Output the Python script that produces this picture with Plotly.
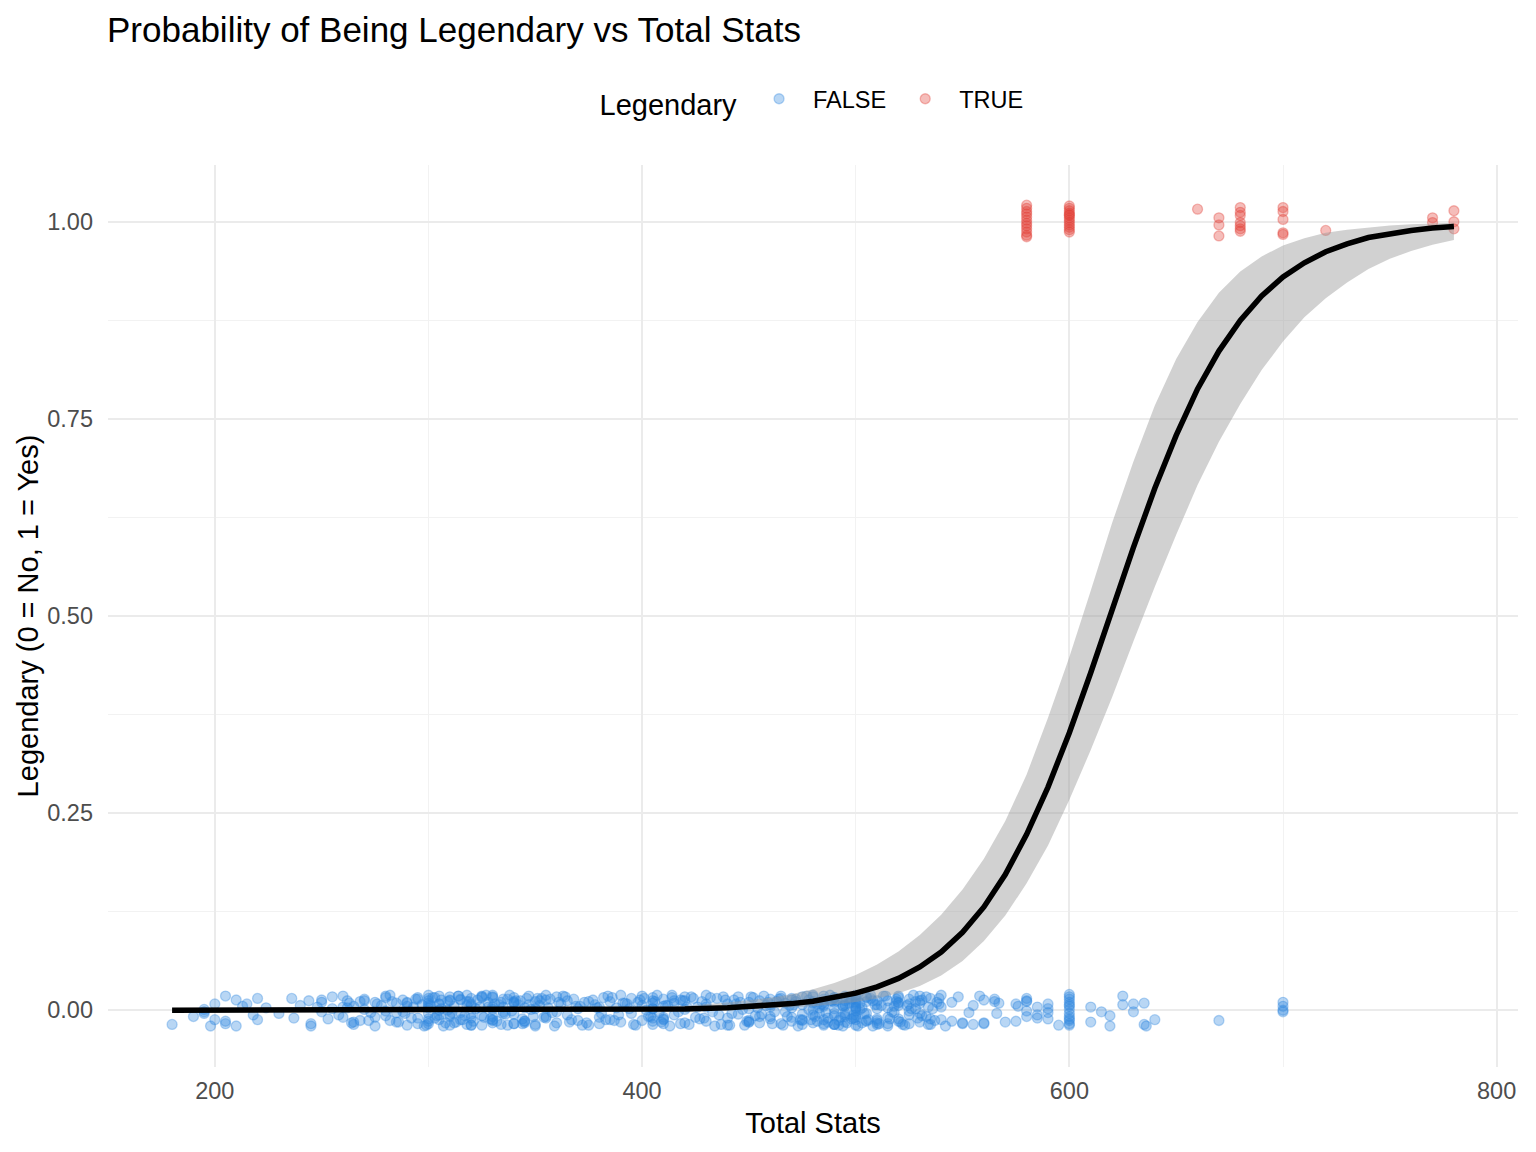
import plotly.graph_objects as go

# jittered observations: total stats vs legendary flag (0/1 plus vertical jitter)
false_total = [
    180, 190, 195, 195, 195, 198, 200, 200, 205, 205,
    205, 210, 210, 213, 215, 218, 220, 220, 224, 230,
    236, 237, 240, 244, 245, 245, 248, 250, 250, 250,
    253, 255, 260, 260, 262, 263, 264, 265, 268, 270,
    270, 273, 275, 275, 278, 280, 280, 283, 285, 288,
    288, 290, 290, 293, 295, 295, 297, 300, 300, 300,
    300, 300, 303, 305, 305, 305, 307, 309, 310, 310,
    312, 313, 315, 315, 318, 318, 320, 320, 320, 322,
    325, 325, 328, 330, 330, 330, 330, 333, 335, 335,
    337, 340, 340, 340, 343, 345, 345, 347, 349, 350,
    350, 352, 353, 355, 355, 358, 360, 360, 362, 365,
    365, 368, 370, 370, 373, 375, 378, 380, 380, 380,
    382, 385, 385, 388, 390, 390, 393, 395, 395, 398,
    400, 400, 400, 403, 405, 405, 405, 405, 408, 410,
    410, 410, 413, 415, 415, 418, 420, 420, 423, 425,
    428, 430, 430, 430, 433, 435, 437, 440, 440, 443,
    445, 445, 448, 450, 450, 450, 452, 453, 455, 455,
    458, 460, 460, 462, 465, 465, 467, 468, 470, 470,
    470, 472, 473, 475, 475, 475, 478, 479, 480, 480,
    480, 482, 483, 485, 485, 485, 487, 488, 490, 490,
    490, 490, 490, 492, 494, 495, 495, 495, 497, 498,
    500, 500, 500, 500, 500, 500, 500, 502, 503, 505,
    505, 507, 508, 510, 510, 510, 513, 515, 515, 515,
    518, 518, 520, 520, 520, 523, 525, 525, 525, 528,
    530, 530, 530, 533, 534, 535, 535, 538, 540, 540,
    545, 548, 550, 553, 555, 558, 560, 565, 570, 575,
    580, 580, 585, 585, 590, 590, 590, 595, 600, 600,
    600, 600, 600, 600, 600, 600, 600, 600, 555, 560,
    560, 566, 567, 576, 580, 580, 610, 610, 615, 619,
    619, 625, 625, 630, 630, 635, 635, 636, 640, 670,
    700, 700, 700, 700, 300, 300, 305, 310, 318, 320,
    325, 330, 330, 340, 405, 405, 410, 414, 420, 440,
    460, 470, 480, 480, 485, 485, 490, 490, 494, 495,
    500, 500, 500, 505, 508, 510, 515, 520, 520, 525,
    530, 530, 535, 540,
    255, 258, 262, 265, 268, 272, 276, 280, 282, 286,
    290, 292, 294, 298, 300, 302, 304, 306, 308, 310,
    311, 314, 316, 318, 320, 323, 326, 328, 330, 332,
    334, 336, 338, 340, 342, 344, 346, 348, 350, 352,
    355, 357, 360, 363, 366, 369, 372, 375, 379, 383,
    386, 389, 392, 396, 399, 402, 405, 407, 410, 412,
    415, 418, 421, 424, 427, 430, 434, 438, 442, 446,
    450, 454, 457, 460, 463, 466, 469, 472, 475, 478,
    480, 482, 484, 486, 488, 490, 491, 493, 495, 496,
    498, 499, 500, 501, 503, 505, 506, 509, 511, 514,
    517, 519, 521, 524, 527, 529, 531, 534, 536, 539,
    300, 305, 310, 315, 320, 325, 330, 335, 340, 345,
    480, 485, 490, 495, 500, 505, 510, 515, 520, 525,
    405, 410, 420, 450, 460, 470, 475, 485, 495, 500,
    282, 285, 289, 295, 299, 301, 303, 306, 309, 312,
    314, 317, 319, 321, 324, 327, 329, 331, 334, 337,
    339, 341, 344, 347, 351, 354, 356, 359, 361, 364,
    367, 371, 374, 377, 381, 384, 387, 391, 394, 397,
    401, 404, 406, 409, 411, 414, 417, 419, 422, 426,
    429, 432, 436, 439, 441, 444, 447, 449, 451, 456,
    459, 461, 464, 467, 471, 474, 477, 481, 483, 487,
    489, 492, 494, 497, 499, 502, 504, 507, 510, 512,
    516, 519, 522, 526, 528, 531, 533, 537, 539, 542,
    260, 265, 270, 275, 280, 285, 290, 295, 300, 305,
    310, 315, 320, 325, 330, 335, 340, 345, 350, 355,
    455, 465, 475, 485, 490, 495, 500, 505, 510, 520,
    600, 600, 600, 590, 585, 580, 575, 565, 550, 545,
]
false_jitter = [
    -0.018, -0.008, -0.002, 0.001, -0.004, -0.020, 0.008, -0.012, 0.018, -0.017,
    -0.014, 0.013, -0.020, 0.005, 0.008, -0.006, 0.015, -0.012, 0.003, -0.004,
    0.015, -0.010, 0.006, 0.012, -0.020, -0.017, 0.004, 0.013, -0.002, 0.010,
    -0.011, 0.002, 0.018, -0.009, 0.012, 0.009, -0.016, 0.005, -0.013, 0.001,
    0.014, -0.003, -0.020, 0.010, 0.006, 0.016, -0.007, 0.011, -0.015, 0.013,
    -0.002, 0.009, -0.019, 0.004, 0.014, -0.010, 0.007, 0.019, -0.004, 0.012,
    -0.017, 0.003, 0.016, -0.012, 0.008, 0.000, -0.020, 0.011, 0.017, -0.008,
    0.005, -0.015, 0.013, -0.003, 0.019, -0.018, 0.008, -0.010, 0.015, 0.002,
    -0.007, 0.018, 0.010, -0.016, 0.004, 0.019, -0.012, 0.007, -0.002, 0.014,
    -0.019, 0.016, -0.005, 0.009, 0.012, -0.014, 0.003, 0.018, -0.008, 0.011,
    -0.018, 0.006, 0.015, -0.010, 0.013, -0.003, 0.017, -0.016, 0.008, 0.012,
    -0.006, 0.014, 0.002, -0.013, 0.010, -0.019, 0.007, -0.017, 0.004, -0.009,
    0.016, -0.012, 0.011, 0.003, 0.019, -0.015, 0.008, -0.004, 0.015, 0.010,
    -0.013, 0.006, 0.018, -0.008, 0.012, -0.018, 0.002, 0.016, -0.003, 0.014,
    -0.011, 0.005, -0.020, 0.009, -0.006, 0.013, -0.016, 0.001, 0.017, -0.009,
    0.011, 0.019, -0.014, 0.004, -0.002, 0.015, -0.018, 0.008, -0.010, 0.013,
    -0.005, 0.017, -0.019, 0.010, -0.013, 0.002, 0.016, -0.007, 0.012, -0.016,
    0.006, -0.011, 0.014, -0.002, 0.018, -0.017, 0.009, -0.008, 0.003, 0.015,
    -0.014, 0.011, -0.020, 0.007, -0.005, 0.017, 0.013, -0.012, 0.001, 0.019,
    -0.016, 0.008, -0.004, 0.014, -0.019, 0.005, -0.010, 0.012, 0.016, -0.007,
    0.002, -0.018, 0.010, -0.013, 0.006, 0.018, -0.003, -0.015, 0.009, -0.011,
    0.013, -0.006, 0.004, -0.019, 0.017, -0.012, 0.008, 0.001, -0.016, 0.011,
    -0.004, 0.015, -0.020, 0.007, -0.013, 0.002, 0.018, -0.009, 0.012, -0.017,
    0.005, -0.003, 0.016, -0.011, 0.010, -0.019, 0.008, -0.006, 0.014, 0.002,
    -0.015, 0.012, 0.018, -0.008, 0.004, 0.015, -0.018, 0.010, -0.012, 0.019,
    -0.014, 0.017, -0.017, -0.003, 0.006, 0.018, -0.016, 0.014, -0.015, 0.008,
    -0.001, 0.015, 0.004, -0.010, -0.003, -0.011, 0.002, -0.019, 0.020, 0.014,
    0.010, 0.005, 0.001, -0.004, -0.008, -0.013, -0.017, -0.019, -0.018, 0.013,
    -0.017, -0.004, 0.009, 0.005, 0.011, -0.008, 0.004, -0.015, -0.002, -0.007,
    -0.020, 0.018, 0.007, 0.008, -0.002, 0.009, -0.018, -0.020, -0.012, -0.013,
    0.010, 0.005, 0.000, -0.002, 0.006, -0.014, 0.018, -0.005, 0.011, -0.019,
    0.016, 0.001, -0.008, -0.017, 0.009, -0.010, -0.017, 0.016, 0.012, -0.019,
    0.004, -0.009, 0.011, -0.006, 0.018, -0.012, -0.004, 0.013, -0.020, 0.007,
    -0.009, 0.019, 0.002, -0.013, 0.012, -0.018, 0.003, 0.006, -0.014, -0.017,
    0.009, -0.004, -0.011, 0.004,
    0.017, -0.006, 0.003, -0.018, 0.011, -0.013, 0.008, -0.001, 0.019, -0.015,
    0.005, -0.010, 0.014, -0.020, 0.009, 0.016, -0.007, 0.002, -0.016, 0.012,
    -0.003, 0.018, -0.012, 0.006, -0.019, 0.013, -0.009, 0.004, 0.017, -0.014,
    0.010, -0.005, 0.019, -0.017, 0.007, -0.011, 0.015, 0.001, -0.020, 0.012,
    -0.008, 0.014, -0.002, 0.018, -0.015, 0.005, -0.019, 0.011, 0.003, -0.012,
    0.016, -0.006, 0.009, -0.018, 0.013, 0.000, -0.014, 0.019, -0.009, 0.006,
    0.012, -0.017, 0.004, 0.015, -0.011, 0.008, -0.020, 0.017, -0.004, 0.010,
    -0.015, 0.003, 0.018, -0.008, 0.011, -0.019, 0.006, 0.014, -0.012, 0.001,
    0.017, -0.014, 0.008, -0.003, 0.019, -0.018, 0.012, -0.009, 0.005, -0.016,
    0.014, -0.006, 0.010, -0.020, 0.003, 0.016, -0.012, 0.007, -0.017, 0.018,
    -0.002, 0.011, -0.015, 0.006, 0.019, -0.010, 0.013, -0.018, 0.002, 0.015,
    -0.011, 0.008, -0.019, 0.014, -0.005, 0.017, -0.013, 0.004, 0.010, -0.016,
    0.009, -0.017, 0.016, -0.008, 0.003, -0.014, 0.012, -0.020, 0.018, -0.001,
    0.002, -0.012, 0.017, -0.015, 0.007, 0.013, -0.018, 0.010, -0.006, 0.015,
    -0.013, 0.009, -0.004, 0.016, -0.019, 0.006, -0.010, 0.013, 0.000, -0.016,
    0.018, -0.007, 0.011, -0.014, 0.004, 0.019, -0.011, 0.008, -0.018, 0.014,
    -0.001, 0.012, -0.017, 0.007, 0.015, -0.009, 0.003, -0.020, 0.010, 0.017,
    -0.012, 0.005, -0.016, 0.013, -0.004, 0.018, -0.013, 0.009, 0.002, -0.019,
    0.015, -0.008, 0.011, -0.015, 0.006, 0.019, -0.002, 0.012, -0.018, 0.004,
    -0.010, 0.016, -0.006, 0.013, -0.019, 0.008, 0.001, -0.014, 0.017, -0.005,
    0.010, -0.017, 0.014, -0.002, 0.007, -0.012, 0.018, -0.008, 0.003, -0.015,
    0.012, -0.019, 0.005, 0.016, -0.010, 0.009, -0.004, 0.019, -0.016, 0.006,
    -0.011, 0.014, -0.018, 0.002, 0.011, -0.007, 0.017, -0.013, 0.008, -0.020,
    0.004, -0.015, 0.012, -0.009, 0.018, -0.003, 0.010, -0.017, 0.015, -0.006,
    0.013, -0.012, 0.006, -0.019, 0.016, -0.004, 0.011, -0.014, 0.002, 0.019,
    -0.008, 0.015, -0.013, 0.007, -0.018, 0.012, -0.001, 0.017, -0.011, 0.009,
    0.017, -0.011, 0.007, 0.008, -0.006, 0.012, -0.014, 0.011, -0.016, 0.010,
]

true_total = [
    580, 580, 580, 580, 580, 580, 580, 580, 580, 580, 580, 580,
    600, 600, 600, 600, 600, 600, 600, 600, 600, 600, 600, 600, 600,
    660, 670, 670, 670,
    680, 680, 680, 680, 680, 680, 680,
    700, 700, 700, 700, 700,
    720, 770, 770, 780, 780, 780,
]
true_jitter = [
    1.021, 1.017, 1.013, 1.010, 1.006, 1.002, 0.998, 0.995, 0.991, 0.987, 0.983, 0.981,
    1.020, 1.017, 1.014, 1.011, 1.008, 1.005, 1.002, 0.999, 0.996, 0.993, 0.990, 0.987, 1.009,
    1.016, 1.005, 0.996, 0.982,
    1.018, 1.012, 1.008, 0.999, 0.995, 0.991, 0.988,
    1.018, 1.013, 1.003, 0.986, 0.984,
    0.989, 1.005, 0.999, 1.014, 1.000, 0.991,
]

# logistic fit and its confidence band
fit_total = [
    180, 200, 220, 240, 260, 280, 300, 320, 340, 360, 380, 400, 420, 440,
    450, 460, 470, 480, 490, 500, 510, 520, 530, 540, 550, 560, 570, 580,
    590, 600, 610, 620, 630, 640, 650, 660, 670, 680, 690, 700, 710, 720,
    730, 740, 750, 760, 770, 780,
]
fit_prob = [
    0.000001, 0.000001, 0.000003, 0.000005, 0.00001, 0.00002, 0.00004, 0.00007,
    0.00013, 0.00025, 0.00048, 0.0009, 0.0017, 0.0032,
    0.0045, 0.0061, 0.0084, 0.0115, 0.0158, 0.0217, 0.0296, 0.0404, 0.0548,
    0.0738, 0.0988, 0.131, 0.172, 0.223, 0.283, 0.352, 0.428, 0.508, 0.587,
    0.662, 0.729, 0.788, 0.836, 0.875, 0.906, 0.930, 0.948, 0.962, 0.972,
    0.980, 0.985, 0.989, 0.992, 0.994,
]
fit_low = [
    0.0, 0.0, 0.0, 0.0, 0.0, 0.0, 0.0, 0.0, 0.0, 0.0, 0.0001, 0.0002, 0.0005, 0.0011,
    0.0016, 0.0024, 0.0034, 0.0050, 0.0072, 0.0103, 0.0149, 0.0215, 0.0308,
    0.0439, 0.0624, 0.0879, 0.120, 0.161, 0.209, 0.267, 0.330, 0.397, 0.468,
    0.537, 0.603, 0.666, 0.721, 0.769, 0.812, 0.848, 0.879, 0.903, 0.923,
    0.940, 0.953, 0.963, 0.971, 0.977,
]
fit_high = [
    0.0, 0.0, 0.0001, 0.0001, 0.0002, 0.0003, 0.0005, 0.0007, 0.0011, 0.0017,
    0.0026, 0.0040, 0.0058, 0.0097,
    0.0123, 0.0157, 0.0204, 0.0266, 0.0346, 0.0448, 0.0579, 0.0745, 0.0953,
    0.121, 0.153, 0.192, 0.240, 0.299, 0.371, 0.448, 0.532, 0.618, 0.696,
    0.767, 0.826, 0.873, 0.910, 0.937, 0.956, 0.970, 0.979, 0.986, 0.990,
    0.993, 0.9954, 0.9969, 0.9979, 0.9986,
]

x_ticks = [200, 400, 600, 800]
y_ticks = [0, 0.25, 0.5, 0.75, 1.0]
y_tick_labels = ["0.00", "0.25", "0.50", "0.75", "1.00"]

FONT = "Liberation Sans, Arial, Helvetica, sans-serif"
BLUE = "rgba(46,134,222,0.34)"
RED = "rgba(226,61,53,0.34)"

fig = go.Figure()

fig.add_trace(go.Scatter(
    x=false_total, y=false_jitter, mode="markers", name="FALSE",
    marker=dict(color=BLUE, size=10, line=dict(color=BLUE, width=1.3)),
))
fig.add_trace(go.Scatter(
    x=true_total, y=true_jitter, mode="markers", name="TRUE",
    marker=dict(color=RED, size=10, line=dict(color=RED, width=1.3)),
))
fig.add_trace(go.Scatter(
    x=fit_total, y=fit_high, mode="lines", line=dict(width=0),
    showlegend=False, hoverinfo="skip",
))
fig.add_trace(go.Scatter(
    x=fit_total, y=fit_low, mode="lines", line=dict(width=0),
    fill="tonexty", fillcolor="rgba(153,153,153,0.45)",
    showlegend=False, hoverinfo="skip",
))
fig.add_trace(go.Scatter(
    x=fit_total, y=fit_prob, mode="lines", line=dict(color="black", width=5.5),
    showlegend=False, hoverinfo="skip",
))

# the page adds an 8px body margin, so margins are shifted to compensate
fig.update_layout(
    width=1536, height=1152,
    paper_bgcolor="white", plot_bgcolor="white",
    font=dict(family=FONT, color="black"),
    margin=dict(l=100, r=26, t=157, b=93),
    title=dict(
        text="Probability of Being Legendary vs Total Stats",
        font=dict(size=35, color="black"),
        xref="container", x=99 / 1536, xanchor="left",
        yref="container", y=1 - 22 / 1152, yanchor="middle",
    ),
    legend=dict(
        orientation="h", x=0.5, xanchor="center", y=1.071, yanchor="middle",
        title=dict(text="Legendary", font=dict(size=29)),
        font=dict(size=23.5), itemwidth=58, traceorder="normal",
    ),
    xaxis=dict(
        range=[150, 810], tickvals=x_ticks, showline=False, zeroline=False,
        showgrid=True, gridcolor="#EBEBEB", gridwidth=2,
        minor=dict(dtick=100, tick0=0, showgrid=True, gridcolor="#F2F2F2", gridwidth=1),
        tickfont=dict(size=23.5, color="#4D4D4D"), ticks="", ticklabelstandoff=7,
        title=dict(text="Total Stats", font=dict(size=29), standoff=10),
    ),
    yaxis=dict(
        range=[-0.072, 1.072], tickvals=y_ticks, ticktext=y_tick_labels,
        showline=False, zeroline=False,
        showgrid=True, gridcolor="#EBEBEB", gridwidth=2,
        minor=dict(dtick=0.125, tick0=0, showgrid=True, gridcolor="#F2F2F2", gridwidth=1),
        tickfont=dict(size=23.5, color="#4D4D4D"), ticks="", ticklabelstandoff=14,
        title=dict(text="Legendary (0 = No, 1 = Yes)", font=dict(size=29), standoff=0),
    ),
)

fig.write_html("out.html")
